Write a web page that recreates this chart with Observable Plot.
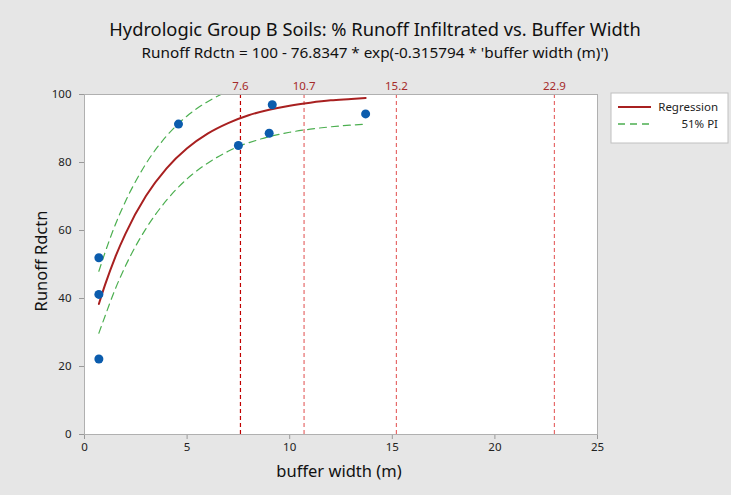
<!DOCTYPE html>
<html>
<head>
<meta charset="utf-8">
<script src="https://cdn.jsdelivr.net/npm/d3@7"></script>
<script src="https://cdn.jsdelivr.net/npm/@observablehq/plot@0.6"></script>
<style>
  html, body { margin: 0; padding: 0; background: #ffffff; }
  #chart { position: relative; width: 731px; height: 495px; overflow: hidden; }
</style>
</head>
<body>
<div id="chart"></div>
<script>
// ---- data ----
const pointX = [0.7, 0.7, 0.7, 4.58, 7.5, 9.0, 9.15, 13.7];
const pointY = [52.0, 41.2, 22.2, 91.3, 85.0, 88.6, 97.0, 94.3];

const regX = [0.7, 1, 1.5, 2, 3, 4, 5, 6, 7, 8, 9, 10, 11, 12, 13, 13.7];
const regY = [38.4, 44.0, 52.2, 59.1, 70.2, 78.3, 84.2, 88.5, 91.6, 93.9, 95.5, 96.7, 97.6, 98.3, 98.7, 99.0];

const upperX = [0.7, 1, 1.5, 2, 3, 4, 5, 6, 6.65];
const upperY = [48.0, 53.5, 61.7, 68.6, 79.7, 87.8, 93.7, 97.9, 100];

const lowerX = [0.7, 1, 1.5, 2, 3, 4, 5, 6, 7, 7.6, 8, 9, 10, 11, 12, 13, 13.7];
const lowerY = [29.8, 34.8, 42.8, 49.6, 60.6, 68.9, 75.2, 79.8, 83.3, 85.0, 85.8, 87.6, 88.9, 89.8, 90.5, 91.0, 91.3];

const refX = [7.6, 10.7, 15.2, 22.9];
const refLabels = ["7.6", "10.7", "15.2", "22.9"];

const xTicks = [0, 5, 10, 15, 20, 25];
const yTicks = [0, 20, 40, 60, 80, 100];

const titleText = "Hydrologic Group B Soils: % Runoff Infiltrated vs. Buffer Width";
const subtitleText = "Runoff Rdctn = 100 - 76.8347 * exp(-0.315794 * 'buffer width (m)')";
const xLabel = "buffer width (m)";
const yLabel = "Runoff Rdctn";
const legendLabels = ["Regression", "51% PI"];

// ---- build tables ----
const points = pointX.map((x, i) => ({x, y: pointY[i]}));
const reg = regX.map((x, i) => ({x, y: regY[i]}));
const upper = upperX.map((x, i) => ({x, y: upperY[i]}));
const lower = lowerX.map((x, i) => ({x, y: lowerY[i]}));
const refs = refX.map((x, i) => ({x, label: refLabels[i], i}));

const FONT = "'Noto Sans', 'Open Sans', sans-serif";
const RED = "#a82020";
const GREEN = "#4caf50";
const BLUE = "#0b5cad";

const plot = Plot.plot({
  width: 731,
  height: 495,
  marginLeft: 84,
  marginRight: 134,
  marginTop: 94,
  marginBottom: 61,
  style: {background: "#e6e6e6", fontFamily: FONT, fontSize: "11px", color: "#333"},
  x: {domain: [0, 25], ticks: xTicks},
  y: {domain: [0, 100], ticks: yTicks},
  marks: [
    Plot.frame({fill: "white", stroke: "none"}),
    Plot.ruleX(refs, {x: "x", y1: 0, y2: 100,
      stroke: d => d.i === 0 ? "#c00000" : "#e66a6a",
      strokeWidth: 1.2, strokeDasharray: "4,3"}),
    Plot.text(refs, {x: "x", y: 100, text: "label", dy: -8, fill: "#a52a2a",
      fontSize: 11.5, textAnchor: "middle"}),
    Plot.line(upper, {x: "x", y: "y", stroke: GREEN, strokeWidth: 1.2,
      strokeDasharray: "7,5", curve: "monotone-x"}),
    Plot.line(lower, {x: "x", y: "y", stroke: GREEN, strokeWidth: 1.2,
      strokeDasharray: "7,5", curve: "monotone-x"}),
    Plot.line(reg, {x: "x", y: "y", stroke: RED, strokeWidth: 2, curve: "monotone-x"}),
    Plot.dot(points, {x: "x", y: "y", r: 4.5, fill: BLUE, stroke: "none"}),
    Plot.axisX({ticks: xTicks, tickSize: 5, tickPadding: 3, label: null, stroke: "#999", fill: "#222", fontSize: 11.5}),
    Plot.axisY({ticks: yTicks, tickSize: 5, tickPadding: 8, label: null, stroke: "#999", fill: "#222", fontSize: 11.5}),
    Plot.frame({stroke: "#b0b0b0"})
  ]
});

document.getElementById("chart").appendChild(plot);

// ---- titles, axis labels, legend as SVG text ----
const svg = d3.select(plot);
svg.append("text").attr("x", 375).attr("y", 35.5).attr("text-anchor", "middle")
  .attr("font-family", FONT).attr("font-size", 18.3).attr("fill", "#111").text(titleText);
svg.append("text").attr("x", 375).attr("y", 57.5).attr("text-anchor", "middle")
  .attr("font-family", FONT).attr("font-size", 15.3).attr("fill", "#111").text(subtitleText);
svg.append("text").attr("x", 339).attr("y", 477).attr("text-anchor", "middle")
  .attr("font-family", FONT).attr("font-size", 16.5).attr("fill", "#111").text(xLabel);
svg.append("text").attr("transform", "translate(47,261) rotate(-90)").attr("text-anchor", "middle")
  .attr("font-family", FONT).attr("font-size", 16.5).attr("fill", "#111").text(yLabel);

const lg = svg.append("g");
lg.append("rect").attr("x", 611).attr("y", 93).attr("width", 117).attr("height", 50)
  .attr("fill", "white").attr("stroke", "#c0c0c0");
lg.append("line").attr("x1", 618).attr("x2", 651).attr("y1", 107).attr("y2", 107)
  .attr("stroke", RED).attr("stroke-width", 2);
lg.append("line").attr("x1", 618).attr("x2", 651).attr("y1", 124).attr("y2", 124)
  .attr("stroke", GREEN).attr("stroke-width", 1.5).attr("stroke-dasharray", "7,5");
lg.append("text").attr("x", 718).attr("y", 111).attr("text-anchor", "end")
  .attr("font-family", FONT).attr("font-size", 11.5).attr("fill", "#222").text(legendLabels[0]);
lg.append("text").attr("x", 718).attr("y", 128).attr("text-anchor", "end")
  .attr("font-family", FONT).attr("font-size", 11.5).attr("fill", "#222").text(legendLabels[1]);
</script>
</body>
</html>
